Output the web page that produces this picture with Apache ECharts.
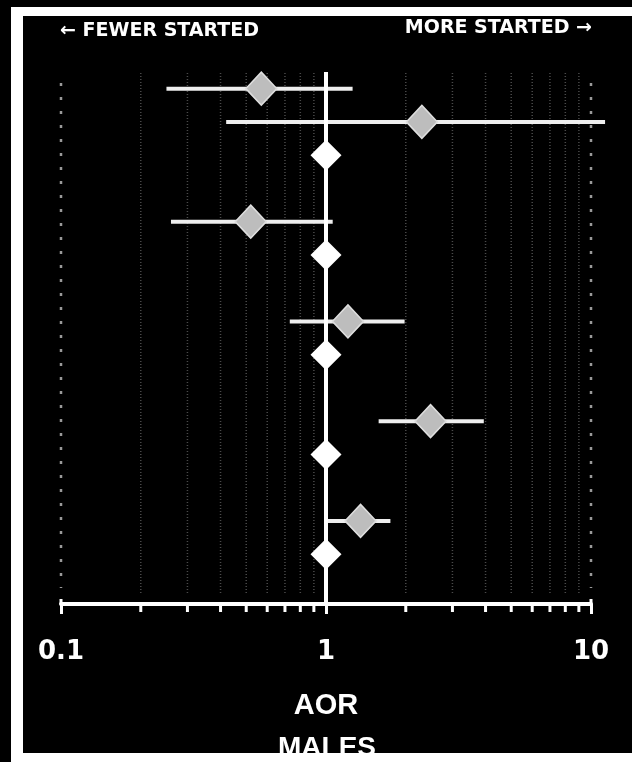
<!DOCTYPE html>
<html>
<head>
<meta charset="utf-8">
<script src="https://cdn.jsdelivr.net/npm/echarts@6/dist/echarts.min.js"></script>
<style>
html,body{margin:0;padding:0;background:#000;}
#chart{width:632px;height:762px;}
</style>
</head>
<body>
<div id="chart"></div>
<script>
// Rows of the forest plot, numbered from the top (labels are not shown in the picture)
var rowCount = 16;
// Estimates (grey diamonds)
var estRows = [0, 1, 4, 7, 10, 13];
var estAOR  = [0.57, 2.30, 0.52, 1.21, 2.48, 1.35];
var ciLow   = [0.25, 0.42, 0.26, 0.73, 1.58, 1.01];
var ciHigh  = [1.26, 11.3, 1.06, 1.98, 3.94, 1.75];
// Reference categories (white diamonds, AOR = 1)
var refRows = [2, 5, 8, 11, 14];
var refAOR  = [1, 1, 1, 1, 1];
// Axis ticks / reference line
var nullValue = 1;
var edgeTicks = [0.1, 10];
var minorTicks = [0.2,0.3,0.4,0.5,0.6,0.7,0.8,0.9,2,3,4,5,6,7,8,9];

var chart = echarts.init(document.getElementById('chart'));

function vLines(values, opts) {
  return {
    type: 'custom',
    silent: true,
    z: opts.z || 1,
    data: values.map(function (v) { return [v, 0]; }),
    encode: { x: 0, y: 1 },
    renderItem: function (params, api) {
      var cs = params.coordSys;
      var x = api.coord([api.value(0), 0])[0];
      return {
        type: 'line',
        shape: { x1: x, y1: cs.y + opts.from(cs), x2: x, y2: cs.y + opts.to(cs) },
        style: { stroke: opts.color, lineWidth: opts.width, lineDash: opts.dash || null }
      };
    }
  };
}

var option = {
  backgroundColor: '#000',
  animation: false,
  grid: { left: 61, right: 41, top: 72, bottom: 158 },
  xAxis: {
    type: 'log',
    logBase: 10,
    min: 0.1,
    max: 10,
    position: 'bottom',
    name: 'AOR',
    nameLocation: 'middle',
    nameGap: 102,
    nameTextStyle: { color: '#fff', fontFamily: 'Liberation Sans', fontWeight: 'bold', fontSize: 29, verticalAlign: 'middle' },
    axisLine: { show: true, onZero: false, lineStyle: { color: '#fff', width: 4 } },
    axisTick: { show: true, length: 10, lineStyle: { color: '#fff', width: 3 } },
    axisLabel: { color: '#fff', fontFamily: 'DejaVu Sans', fontWeight: 'bold', fontSize: 26, margin: 48, verticalAlign: 'middle' },
    splitLine: { show: false }
  },
  yAxis: {
    type: 'value',
    inverse: true,
    min: -0.5,
    max: rowCount - 0.5,
    show: false,
    splitLine: { show: false }
  },
  graphic: [
    { type: 'text', left: 60, top: 22, z: 10,
      style: { text: '\u2190 FEWER STARTED', fill: '#fff', font: 'bold 19px "DejaVu Sans"' } },
    { type: 'text', right: 40, top: 19, z: 10,
      style: { text: 'MORE STARTED \u2192', fill: '#fff', font: 'bold 19px "DejaVu Sans"' } },
    { type: 'text', x: 327, y: 748, z: 10,
      style: { text: 'MALES', fill: '#fff', font: 'bold 28px "Liberation Sans"', textAlign: 'center', textVerticalAlign: 'middle' } },
    { type: 'rect', z: 20, shape: { x: 11, y: 7, width: 12, height: 755 }, style: { fill: '#fff' } },
    { type: 'rect', z: 20, shape: { x: 11, y: 7, width: 621, height: 9 }, style: { fill: '#fff' } },
    { type: 'rect', z: 20, shape: { x: 11, y: 753, width: 621, height: 9 }, style: { fill: '#fff' } }
  ],
  series: [
    vLines(minorTicks, { color: '#4a4a4a', width: 1.5, dash: [1, 2], from: function () { return 1; }, to: function (cs) { return cs.height - 9; } }),
    vLines(edgeTicks, { color: '#9a9a9a', width: 2.5, dash: [3, 11], from: function () { return 11; }, to: function (cs) { return cs.height - 16; } }),
    vLines(edgeTicks, { color: '#fff', width: 3, z: 3, from: function (cs) { return cs.height - 5; }, to: function (cs) { return cs.height; } }),
    vLines(minorTicks, { color: '#fff', width: 3, z: 3, from: function (cs) { return cs.height; }, to: function (cs) { return cs.height + 8; } }),
    vLines([nullValue], { color: '#fff', width: 4, z: 3, from: function () { return 0; }, to: function (cs) { return cs.height; } }),
    {
      type: 'custom',
      z: 2,
      data: estRows.map(function (r, i) { return [ciLow[i], ciHigh[i], r]; }),
      encode: { x: [0, 1], y: 2 },
      renderItem: function (params, api) {
        var p1 = api.coord([api.value(0), api.value(2)]);
        var p2 = api.coord([api.value(1), api.value(2)]);
        return { type: 'line', shape: { x1: p1[0], y1: p1[1], x2: p2[0], y2: p2[1] },
          style: { stroke: '#eeeeee', lineWidth: 4 } };
      }
    },
    {
      type: 'scatter',
      z: 5,
      symbol: 'diamond',
      symbolSize: [31, 33],
      itemStyle: { color: '#bdbdbd', borderColor: '#dedede', borderWidth: 1.5, opacity: 1 },
      data: estRows.map(function (r, i) { return [estAOR[i], r]; })
    },
    {
      type: 'scatter',
      z: 5,
      symbol: 'diamond',
      symbolSize: [31, 31],
      itemStyle: { color: '#ffffff', opacity: 1 },
      data: refRows.map(function (r, i) { return [refAOR[i], r]; })
    }
  ]
};
chart.setOption(option);
</script>
</body>
</html>
